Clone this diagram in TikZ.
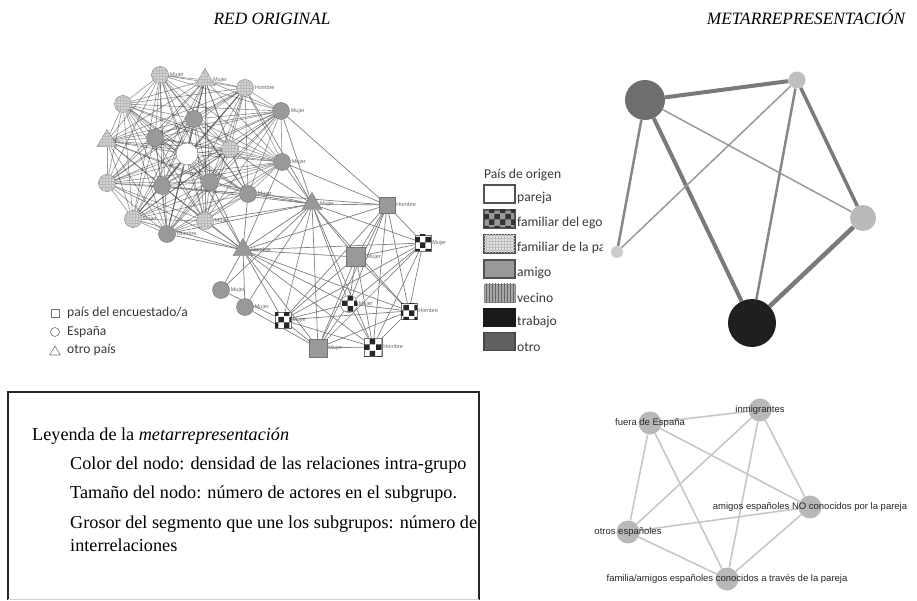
\documentclass[tikz,border=0pt]{standalone}
\usepackage{fontspec}
\setmainfont{Liberation Serif}
\newfontfamily\calfont{Carlito}
\newfontfamily\arialfont{Liberation Sans}
\usetikzlibrary{shapes.geometric,patterns,backgrounds}

\tikzset{
  ci/.style={circle, draw=black!55, minimum size=17pt, inner sep=0pt},
  sq/.style={rectangle, draw=black!55, minimum size=16pt, inner sep=0pt},
  tri/.style={regular polygon, regular polygon sides=3, draw=black!55, minimum size=23pt, inner sep=0pt},
  amigo/.style={fill=black!40},
  fpar/.style={fill=black!17, postaction={pattern=grid, pattern color=black!28}},
  fego/.style={fill=white, postaction={pattern=checkerboard, pattern color=black!85}},
  nlab/.style={font=\arialfont\fontsize{5.5}{6}\selectfont, text=black!60, inner sep=1pt},
  upline/.style={black!80, opacity=.5, line width=.65pt},
  loline/.style={black!50, line width=.7pt},
  lgd/.style={font=\calfont\fontsize{13.6}{15}\selectfont, text=black!78, inner sep=0pt},
  lbox/.style={rectangle, minimum width=31pt, minimum height=18pt, inner sep=0pt, draw=black!68, line width=1.2pt},
  mnode/.style={circle, inner sep=0pt},
  snode/.style={circle, inner sep=0pt, fill=black!28, minimum size=23pt},
  slab/.style={font=\arialfont\fontsize{9.5}{11}\selectfont, text=black!85, inner sep=0pt},
  sline/.style={black!22, line width=1.6pt},
  btxt/.style={font=\fontsize{18.2}{22}\selectfont, inner sep=0pt},
  titl/.style={font=\fontsize{17.3}{20}\selectfont\itshape, inner sep=0pt}
}

\begin{document}
\begin{tikzpicture}[x=1pt, y=-1pt]
\useasboundingbox (0,0) rectangle (917,601);

\node[titl, anchor=base] (t1) at (272,25) {RED ORIGINAL};
\node[titl, anchor=base] (t2) at (806,25) {METARREPRESENTACIÓN};

% red original
\node[ci,fpar,label={[nlab]right:Mujer}] (a1) at (160,75) {};
\node[tri,fpar,label={[nlab]right:Mujer}] (a2) at (205,80) {};
\node[ci,fpar,label={[nlab]right:Hombre}] (a3) at (245,88) {};
\node[ci,fpar] (a4) at (123,104) {};
\node[ci,amigo,label={[nlab]right:Mujer}] (a5) at (281,111) {};
\node[ci,amigo] (a6) at (194,119) {};
\node[tri,fpar] (a7) at (107,141) {};
\node[ci,amigo] (a8) at (155,138) {};
\node[ci,fill=white,minimum size=22pt] (a9) at (187,154) {};
\node[ci,fpar] (a10) at (230,149) {};
\node[ci,amigo,label={[nlab]right:Mujer}] (a11) at (282,162) {};
\node[ci,fpar] (a12) at (107,183) {};
\node[ci,amigo] (a13) at (162,186) {};
\node[ci,amigo] (a14) at (210,182) {};
\node[ci,amigo,label={[nlab]right:Mujer}] (a15) at (248,194) {};
\node[ci,fpar,label={[nlab]right:Mujer}] (a16) at (133,219) {};
\node[ci,fpar,label={[nlab]right:Mujer}] (a17) at (205,221) {};
\node[ci,amigo,label={[nlab]right:Hombre}] (a18) at (167,234) {};

\node[tri,amigo,label={[nlab]right:Hombre}] (b1) at (243,250) {};
\node[tri,amigo,label={[nlab]right:Mujer}] (b2) at (312,204) {};
\node[sq,amigo,label={[nlab]right:Hombre}] (b3) at (387,205) {};
\node[sq,fego,label={[nlab]right:Mujer}] (b4) at (423,243) {};
\node[sq,amigo,minimum size=19pt,label={[nlab]right:Mujer}] (b5) at (356,257) {};
\node[ci,amigo,label={[nlab]right:Mujer}] (b6) at (221,290) {};
\node[ci,amigo,label={[nlab]right:Mujer}] (b7) at (245,307) {};
\node[ci,fego,label={[nlab]right:Mujer}] (b8) at (349,304) {};
\node[sq,fego,label={[nlab]right:Mujer}] (b9) at (283,320) {};
\node[sq,fego,label={[nlab]right:Hombre}] (b10) at (409,311) {};
\node[sq,amigo,minimum size=18pt,label={[nlab]right:Mujer}] (b11) at (318,348) {};
\node[sq,fego,minimum size=18pt,label={[nlab]right:Hombre}] (b12) at (373,347) {};

\begin{scope}[on background layer]
  \foreach \i [evaluate=\i as \k using int(\i+1)] in {1,...,17}
    \foreach \j in {\k,...,18}
      \draw[upline] (a\i) -- (a\j);
  \foreach \i/\rest in {1/{2,3,4,5,8,9,10,11,12}, 2/{3,4,5,8,9,10,11,12},
      3/{4,5,8,9,10,11,12}, 4/{5,8,9,10,11,12}, 5/{8,9,10,11,12},
      8/{9,10,11,12}, 9/{10,11,12}, 10/{11,12}, 11/{12}, 6/{1,2,9}, 7/{1,2,11}}
    \foreach \j in \rest
      \draw[loline] (b\i) -- (b\j);
  \foreach \i in {9,11,12,13,14,15,16,17,18}
    \draw[loline] (b1) -- (a\i);
  \foreach \i in {3,5,10,11,13,14,15,17,18}
    \draw[loline] (b2) -- (a\i);
  \foreach \i in {5,11,15}
    \draw[loline] (b3) -- (a\i);
\end{scope}

\node[sq,minimum size=8pt,line width=.6pt] (k1) at (55,313) {};
\node[lgd,anchor=west] (k1t) at (67,313) {país del encuestado/a};
\node[circle,draw=black!55,minimum size=9pt,inner sep=0pt,line width=.6pt] (k2) at (55,332) {};
\node[lgd,anchor=west] (k2t) at (67,332) {España};
\node[regular polygon,regular polygon sides=3,draw=black!55,minimum size=12pt,inner sep=0pt,line width=.6pt] (k3) at (55,352) {};
\node[lgd,anchor=west] (k3t) at (67,350) {otro país};

% pais de origen
\begin{scope}
\clip (470,150) rectangle (602,365);
\node[lgd,anchor=west] (po) at (484,175) {País de origen};
\node[lbox,fill=white] (g1) at (499.5,194) {};
\node[lgd,anchor=west] (g1t) at (517,198) {pareja};
\node[lbox,fill=black!40,postaction={pattern=checkerboard,pattern color=black!80}] (g2) at (499.5,219) {};
\node[lgd,anchor=west] (g2t) at (517,223) {familiar del ego};
\node[lbox,fill=black!12,postaction={pattern=grid,pattern color=black!25}] (g3) at (499.5,244) {};
\node[lgd,anchor=west] (g3t) at (517,248) {familiar de la pareja};
\node[lbox,fill=black!40] (g4) at (499.5,269) {};
\node[lgd,anchor=west] (g4t) at (517,273) {amigo};
\node[lbox,draw=black!45,line width=.4pt,fill=black!35,postaction={pattern=vertical lines,pattern color=black!60}] (g5) at (499.5,293) {};
\node[lgd,anchor=west] (g5t) at (517,298) {vecino};
\node[lbox,fill=black!90,draw=black!90] (g6) at (499.5,317.5) {};
\node[lgd,anchor=west] (g6t) at (517,322) {trabajo};
\node[lbox,fill=black!62,draw=black!72] (g7) at (499.5,341.5) {};
\node[lgd,anchor=west] (g7t) at (517,347) {otro};
\end{scope}

% metarrepresentacion
\node[mnode,fill=black!57,minimum size=40pt] (m1) at (645,100) {};
\node[mnode,fill=black!25,minimum size=17pt] (m2) at (797,80) {};
\node[mnode,fill=black!27,minimum size=26pt] (m3) at (863,218) {};
\node[mnode,fill=black!20,minimum size=12pt] (m4) at (617,252) {};
\node[mnode,fill=black!88,minimum size=48pt] (m5) at (752,323) {};
\begin{scope}[on background layer]
  \draw[black!52, line width=4pt] (m1) -- (m2);
  \draw[black!52, line width=4pt] (m1) -- (m5);
  \draw[black!52, line width=4.5pt] (m3) -- (m5);
  \draw[black!52, line width=3.5pt] (m2) -- (m3);
  \draw[black!47, line width=2.5pt] (m1) -- (m4);
  \draw[black!47, line width=2.5pt] (m2) -- (m5);
  \draw[black!40, line width=1.5pt] (m1) -- (m3);
  \draw[black!40, line width=1.5pt] (m2) -- (m4);
\end{scope}

\node[snode,label={[slab]center:fuera de España}] (s1) at (650,423) {};
\node[snode,label={[slab]center:inmigrantes}] (s2) at (760,410) {};
\node[snode,label={[slab]center:amigos españoles NO conocidos por la pareja}] (s3) at (810,507) {};
\node[snode,label={[slab]center:otros españoles}] (s4) at (628,532) {};
\node[snode,label={[slab]center:familia/amigos españoles conocidos a través de la pareja}] (s5) at (727,579) {};
\begin{scope}[on background layer]
  \foreach \i/\j in {1/2,1/3,1/4,1/5,2/3,2/4,2/5,3/4,3/5,4/5}
    \draw[sline] (s\i) -- (s\j);
\end{scope}

% leyenda
\draw[black!85, line width=1.8pt] (8,600) -- (8,392) -- (479,392) -- (479,600);
\draw[black!18, line width=.8pt] (8,599.5) -- (479,599.5);
\node[btxt,anchor=base west] (l1) at (32,440) {Leyenda de la \textit{metarrepresentación}};
\node[btxt,anchor=base west] (l2) at (70,469) {Color del nodo: densidad de las relaciones intra-grupo};
\node[btxt,anchor=base west] (l3) at (70,498) {Tamaño del nodo: número de actores en el subgrupo.};
\node[btxt,anchor=base west] (l4) at (70,528) {Grosor del segmento que une los subgrupos: número de};
\node[btxt,anchor=base west] (l5) at (70,551) {interrelaciones};
\end{tikzpicture}
\end{document}
